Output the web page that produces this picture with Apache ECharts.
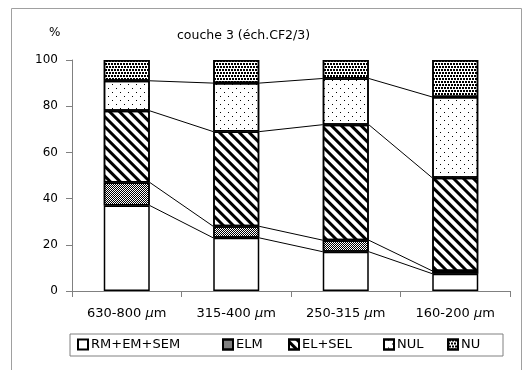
<!DOCTYPE html>
<html lang="fr">
<head>
    <meta charset="UTF-8">
    <title>couche 3</title>
    <script src="https://cdn.jsdelivr.net/npm/echarts@6/dist/echarts.min.js"></script>
    <style>
        body {
            margin: 0;
            background: #fff;
        }

        #chart {
            width: 527px;
            height: 370px;
        }
    </style>
</head>
<body>
<div id="chart"></div>
<script>
    const categories = ['630-800 {i|µ}m', '315-400 {i|µ}m', '250-315 {i|µ}m', '160-200 {i|µ}m'];
    const seriesNames = ['RM+EM+SEM', 'ELM', 'EL+SEL', 'NUL', 'NU'];
    const rmEmSem = [37, 23, 17, 7.5];
    const elm = [10, 5, 5, 1.2];
    const elSel = [31, 41, 50, 40.3];
    const nul = [13, 21, 20, 35];
    const nu = [9, 10, 8, 16];
    const yTicks = [0, 20, 40, 60, 80, 100];

    const values = [rmEmSem, elm, elSel, nul, nu];
    const BAR_W = 46;
    const FONT = 'DejaVu Sans';

    const decals = [
        null,
        {color: '#000', symbol: 'rect', symbolSize: 1, dashArrayX: [[1, 1], [0, 1, 1, 0]], dashArrayY: [1, 0]},
        {color: '#000', symbol: 'rect', symbolSize: 1, dashArrayX: [1, 0], dashArrayY: [3, 4], rotation: Math.PI / 4},
        {color: '#000', symbol: 'rect', symbolSize: 1, dashArrayX: [[1, 7], [0, 4, 1, 3]], dashArrayY: [1, 3]},
        {color: '#000', symbol: 'rect', symbolSize: 1, dashArrayX: [[2, 1], [0, 1, 2, 0]], dashArrayY: [2, 1]}
    ];

    // cumulative tops for the series lines
    const cumulative = [];
    values.forEach((arr, s) => {
        cumulative.push(arr.map((v, i) => v + (s > 0 ? cumulative[s - 1][i] : 0)));
    });
    const lineData = [];
    for (let s = 0; s < 4; s++) {
        for (let i = 0; i < categories.length - 1; i++) {
            lineData.push([i, cumulative[s][i], cumulative[s][i + 1]]);
        }
    }

    const series = seriesNames.map((name, s) => {
        const itemStyle = {color: '#fff', borderColor: '#000', borderWidth: 1.5};
        if (decals[s]) itemStyle.decal = decals[s];
        return {
            name: name,
            type: 'bar',
            stack: 'total',
            barWidth: BAR_W,
            data: values[s],
            itemStyle: itemStyle,
            emphasis: {disabled: true}
        };
    });
    series.push({
        type: 'custom',
        silent: true,
        data: lineData,
        encode: {x: 0, y: 1},
        renderItem: function (params, api) {
            const p1 = api.coord([api.value(0), api.value(1)]);
            const p2 = api.coord([api.value(0) + 1, api.value(2)]);
            return {
                type: 'line',
                shape: {x1: p1[0] + BAR_W / 2, y1: p1[1], x2: p2[0] - BAR_W / 2, y2: p2[1]},
                style: {stroke: '#000', lineWidth: 1}
            };
        }
    });

    const legendLeft = [77, 222, 288, 383, 447];
    const legends = seriesNames.map((name, s) => ({
        data: [name],
        left: legendLeft[s],
        top: 338,
        itemWidth: 10,
        itemHeight: 10,
        itemGap: 0,
        icon: 'rect',
        padding: 0,
        selectedMode: false,
        textStyle: {fontFamily: FONT, fontSize: 13, color: '#000', padding: [0, 0, 0, -2]}
    }));

    const chart = echarts.init(document.getElementById('chart'));
    chart.setOption({
        animation: false,
        backgroundColor: '#fff',
        grid: {left: 72, right: 17, top: 60, bottom: 79},
        title: [
            {text: 'couche 3 (éch.CF2/3)', left: 172, top: 24, textStyle: {fontFamily: FONT, fontSize: 12.5, fontWeight: 'normal', color: '#000'}},
            {text: '%', left: 44, top: 22, textStyle: {fontFamily: FONT, fontSize: 12, fontWeight: 'normal', color: '#000'}}
        ],
        legend: legends,
        graphic: [
            {type: 'polyline', shape: {points: [[11.5, 380], [11.5, 8.5], [521.5, 8.5], [521.5, 380]]}, style: {fill: 'none', stroke: '#a0a0a0', lineWidth: 1}, silent: true},
            {type: 'rect', shape: {x: 70, y: 334, width: 433, height: 22}, style: {fill: 'none', stroke: '#808080', lineWidth: 1}, silent: true, z: -1}
        ],
        xAxis: {
            type: 'category',
            data: categories,
            axisLine: {lineStyle: {color: '#808080'}},
            axisTick: {show: true, interval: 0, length: 6, lineStyle: {color: '#808080'}},
            axisLabel: {
                interval: 0, fontFamily: FONT, fontSize: 13, color: '#000', margin: 16,
                rich: {i: {fontFamily: FONT, fontSize: 13, fontStyle: 'italic', color: '#000'}}
            }
        },
        yAxis: {
            type: 'value',
            min: yTicks[0],
            max: yTicks[yTicks.length - 1],
            interval: 20,
            splitLine: {show: false},
            axisLine: {show: true, lineStyle: {color: '#808080'}},
            axisTick: {show: true, length: 6, lineStyle: {color: '#808080'}},
            axisLabel: {fontFamily: FONT, fontSize: 12, color: '#000', margin: 14}
        },
        series: series
    });
</script>
</body>
</html>
